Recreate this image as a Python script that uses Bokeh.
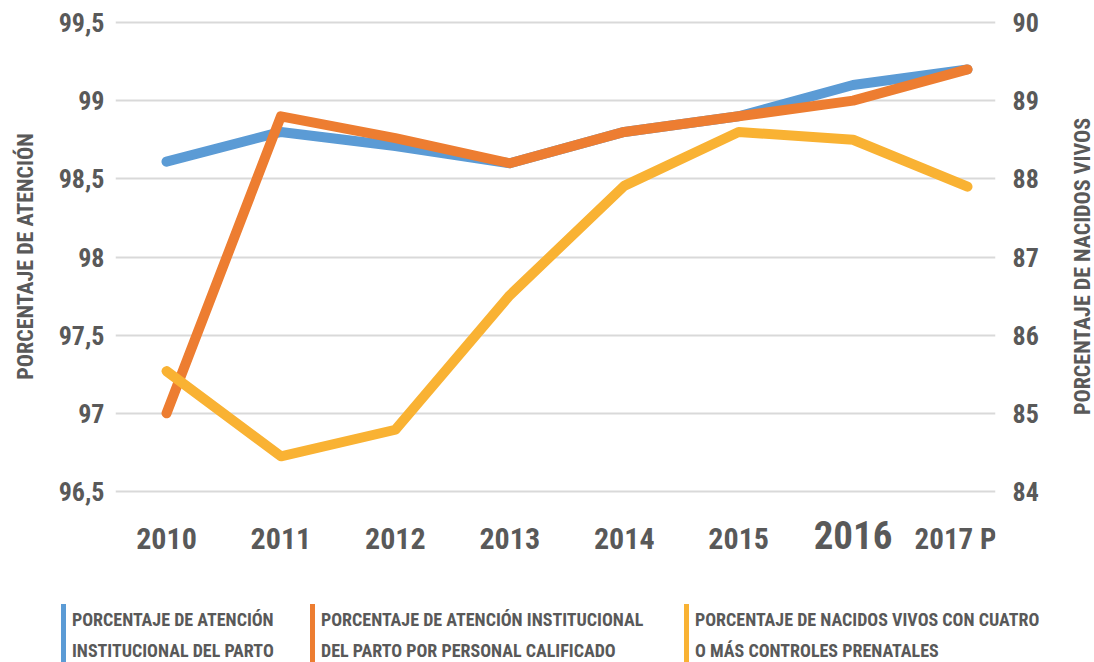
import math
from bokeh.plotting import figure
from bokeh.models import Range1d, LinearAxis, FixedTicker, Div
from bokeh.layouts import column, row
from bokeh.embed import file_html
from bokeh.resources import INLINE
from bokeh.core.properties import value

# ---- data ----
years = ["2010", "2011", "2012", "2013", "2014", "2015", "2016", "2017 P"]
atencion_parto = [98.61, 98.80, 98.71, 98.60, 98.80, 98.90, 99.10, 99.20]
atencion_calificado = [97.00, 98.90, 98.76, 98.60, 98.80, 98.90, 99.00, 99.20]
nacidos_controles = [85.54, 84.45, 84.79, 86.51, 87.91, 88.60, 88.50, 87.90]
left_ticks = [96.5, 97.0, 97.5, 98.0, 98.5, 99.0, 99.5]
left_tick_labels = ["96,5", "97", "97,5", "98", "98,5", "99", "99,5"]
right_ticks = [84, 85, 86, 87, 88, 89, 90]
highlight_year = "2016"
legend_labels = [
    ("PORCENTAJE DE ATENCIÓN", "INSTITUCIONAL DEL PARTO"),
    ("PORCENTAJE DE ATENCIÓN INSTITUCIONAL", "DEL PARTO POR PERSONAL CALIFICADO"),
    ("PORCENTAJE DE NACIDOS VIVOS CON CUATRO", "O MÁS CONTROLES PRENATALES"),
]
left_title = "PORCENTAJE DE ATENCIÓN"
right_title = "PORCENTAJE DE NACIDOS VIVOS"

# ---- style ----
FONT = "'Roboto Condensed', 'DejaVu Sans Condensed', 'Liberation Sans Narrow', Roboto, sans-serif"
GREY = "#595959"
BLUE = "#5B9BD5"
ORANGE = "#ED7D31"
YELLOW = "#F9B233"
GRID = "#D9D9D9"
COLORS = [BLUE, ORANGE, YELLOW]

TOTAL_W = 1094
LW, RW = 40, 34                 # side title strips
MW = TOTAL_W - LW - RW          # main figure width
H = 582
LEG_H = 662 - H
FL, FR, FT, FB = 115, 995, 19, H            # frame edges in page pixels
TOP_PX, BOT_PX = 22, 491                     # pixel rows of 99,5 / 96,5
FIRST_PX, LAST_PX = 166, 967                 # pixel cols of first / last year
k = (BOT_PX - TOP_PX) / (left_ticks[-1] - left_ticks[0])
kr = (BOT_PX - TOP_PX) / (right_ticks[-1] - right_ticks[0])
kx = (LAST_PX - FIRST_PX) / (len(years) - 1)
Y1 = left_ticks[-1] + (TOP_PX - FT) / k
Y0 = left_ticks[-1] - (FB - TOP_PX) / k
R1 = right_ticks[-1] + (TOP_PX - FT) / kr
R0 = right_ticks[-1] - (FB - TOP_PX) / kr
X0 = -(FIRST_PX - FL) / kx
X1 = (len(years) - 1) + (FR - LAST_PX) / kx

def py_to_y(px):
    return left_ticks[-1] - (px - TOP_PX) / k

xs = list(range(len(years)))

p = figure(width=MW, height=H, output_backend="svg", toolbar_location=None,
           x_range=Range1d(X0, X1), y_range=Range1d(Y0, Y1),
           min_border_left=FL - LW, min_border_right=(LW + MW) - FR,
           min_border_top=FT, min_border_bottom=H - FB)
p.outline_line_color = None
p.extra_y_ranges = {"right": Range1d(R0, R1)}

p.xaxis.visible = False
p.xgrid.visible = False

p.yaxis.ticker = FixedTicker(ticks=left_ticks)
p.yaxis.major_label_overrides = {t: l for t, l in zip(left_ticks, left_tick_labels)}
p.ygrid.ticker = FixedTicker(ticks=left_ticks)
p.ygrid.grid_line_color = GRID
p.ygrid.grid_line_width = 2

rax = LinearAxis(y_range_name="right", ticker=FixedTicker(ticks=right_ticks))
p.add_layout(rax, "right")

for ax, lso in [(p.yaxis[0], 11), (rax, 17)]:
    ax.axis_line_color = None
    ax.major_tick_line_color = None
    ax.minor_tick_line_color = None
    ax.major_tick_out = 0
    ax.major_tick_in = 0
    ax.major_label_standoff = lso
    ax.major_label_text_font = FONT
    ax.major_label_text_font_style = "bold"
    ax.major_label_text_font_size = "26px"
    ax.major_label_text_color = GREY

p.line(xs, atencion_parto, line_width=10, color=BLUE, line_cap="round", line_join="round")
p.line(xs, atencion_calificado, line_width=10, color=ORANGE, line_cap="round", line_join="round")
p.line(xs, nacidos_controles, line_width=10, color=YELLOW, line_cap="round", line_join="round",
       y_range_name="right")

# year labels (inside the extended frame, under the 96,5 gridline)
last = len(years) - 1
norm_idx = [i for i, yv in enumerate(years) if yv != highlight_year and i != last]
big_idx = [i for i, yv in enumerate(years) if yv == highlight_year]
common = dict(text_font=value(FONT), text_font_style="bold", text_color=GREY,
              text_align="center", text_baseline="middle")
p.text(x=[xs[i] for i in norm_idx], y=[py_to_y(538)] * len(norm_idx),
       text=[years[i] for i in norm_idx], text_font_size="30px", **common)
p.text(x=[xs[last]], y=[py_to_y(538)], text=[years[last]], text_font_size="29px",
       x_offset=-12, **common)
p.text(x=[xs[i] for i in big_idx], y=[py_to_y(534)] * len(big_idx),
       text=[years[i] for i in big_idx], text_font_size="39px", **common)

# ---- side strips with the rotated axis titles ----
def title_strip(width, cx, cy, txt):
    f = figure(width=width, height=H, output_backend="svg", toolbar_location=None,
               x_range=Range1d(0, width), y_range=Range1d(H, FT),
               x_axis_type=None, y_axis_type=None,
               min_border_left=0, min_border_right=0,
               min_border_top=FT, min_border_bottom=H - FB)
    f.outline_line_color = None
    f.grid.visible = False
    f.text(x=[cx], y=[cy], text=[txt], angle=math.pi / 2, text_font=value(FONT),
           text_font_style="bold", text_font_size="22px", text_color=GREY,
           text_align="center", text_baseline="middle")
    return f

left_strip = title_strip(LW, 25, 256, left_title)
right_strip = title_strip(RW, 1082 - (LW + MW), 266, right_title)

# ---- legend (HTML below the plot) ----
left_pos = [61, 310, 684]
entries = []
for (l1, l2), col, lx in zip(legend_labels, COLORS, left_pos):
    entries.append(
        f'<div style="position:absolute;left:{lx}px;top:{604 - H}px;border-left:5px solid {col};'
        f'padding-left:6px;line-height:31px;white-space:nowrap;">{l1}<br>{l2}</div>'
    )
html = (f'<div style="position:relative;width:{TOTAL_W}px;height:{LEG_H}px;overflow:hidden;'
        f'font-family:{FONT};font-weight:bold;font-size:18px;color:{GREY};">'
        + "".join(entries) + "</div>")
leg = Div(text=html, width=TOTAL_W, height=LEG_H, margin=(0, 0, 0, 0))

layout = column(row(left_strip, p, right_strip, spacing=0), leg, spacing=0)
open("out.html", "w").write(file_html(layout, INLINE))
